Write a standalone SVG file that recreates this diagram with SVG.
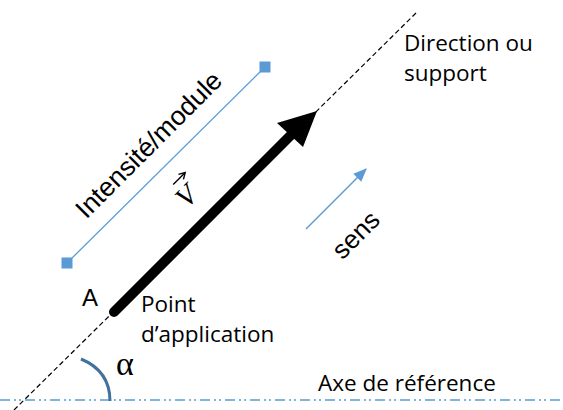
<svg xmlns="http://www.w3.org/2000/svg" width="563" height="410" viewBox="0 0 563 410">
  <defs>
    <style>
      .lbl { font-family: "Open Sans", "Liberation Sans", sans-serif; font-size: 22.5px; fill: #000; }
      .arial { font-family: "Liberation Sans", Arial, sans-serif; fill: #000; }
      .serif { font-family: "Liberation Serif", "Times New Roman", serif; fill: #000; }
      .blue { stroke: #5B9BD5; fill: none; }
    </style>
    <marker id="blueHead" viewBox="0 0 10 10" refX="9" refY="5" markerWidth="10" markerHeight="8" markerUnits="userSpaceOnUse" orient="auto" overflow="visible">
      <path d="M0,0 L10,5 L0,10 Z" fill="#5B9BD5" transform="scale(1.7 1.4) translate(-3.8 -1.4)"/>
    </marker>
  </defs>
  <rect width="563" height="410" fill="#fff"/>

  <!-- reference axis (dash-dot-dot) -->
  <g id="axis">
    <line x1="0" y1="400" x2="563" y2="400" stroke="#5B9BD5" stroke-width="1.5" stroke-dasharray="10 4 2 3 2 4"/>
    <text class="lbl" x="318" y="391">Axe de référence</text>
  </g>

  <!-- direction / support line -->
  <g id="support">
    <line x1="14" y1="410" x2="416" y2="13" stroke="#000" stroke-width="1.2" stroke-dasharray="5 3"/>
    <text class="lbl" x="404" y="51">Direction ou</text>
    <text class="lbl" x="404" y="81">support</text>
  </g>

  <!-- angle alpha -->
  <g id="angle">
    <path d="M81,359 Q110,371 110,401" fill="none" stroke="#41719C" stroke-width="3"/>
    <text class="serif" x="116" y="375" font-size="34">α</text>
  </g>

  <!-- force vector -->
  <g id="vector">
    <line x1="114" y1="312" x2="292" y2="134" stroke="#000" stroke-width="10" stroke-linecap="round"/>
    <polygon points="317,111 277,123 303,147" fill="#000"/>
    <g transform="translate(193 203) rotate(-45)">
      <text class="serif" x="0" y="0" font-size="29" font-style="italic" text-anchor="middle">V</text>
      <line x1="-1" y1="-27" x2="15" y2="-27" stroke="#000" stroke-width="1.4"/>
      <path d="M10,-30.5 L16,-27 L10,-23.5" fill="none" stroke="#000" stroke-width="1.4"/>
    </g>
  </g>

  <!-- point of application -->
  <g id="point">
    <text class="arial" x="82" y="306" font-size="24">A</text>
    <text class="lbl" x="141" y="312">Point</text>
    <text class="lbl" x="141" y="342">d’application</text>
  </g>

  <!-- magnitude -->
  <g id="intensite">
    <line class="blue" x1="67" y1="263" x2="265" y2="67" stroke-width="1.3"/>
    <rect x="61.5" y="257.5" width="11" height="11" fill="#5B9BD5"/>
    <rect x="259.5" y="61.5" width="11" height="11" fill="#5B9BD5"/>
    <text class="arial" font-size="26.5" text-anchor="middle" transform="translate(155 151) rotate(-45)">Intensité/module</text>
  </g>

  <!-- sense -->
  <g id="sens">
    <line class="blue" x1="306" y1="229" x2="366" y2="169" stroke-width="1.5" marker-end="url(#blueHead)"/>
    <text class="arial" font-size="26" text-anchor="middle" transform="translate(362 241) rotate(-45)">sens</text>
  </g>
</svg>
